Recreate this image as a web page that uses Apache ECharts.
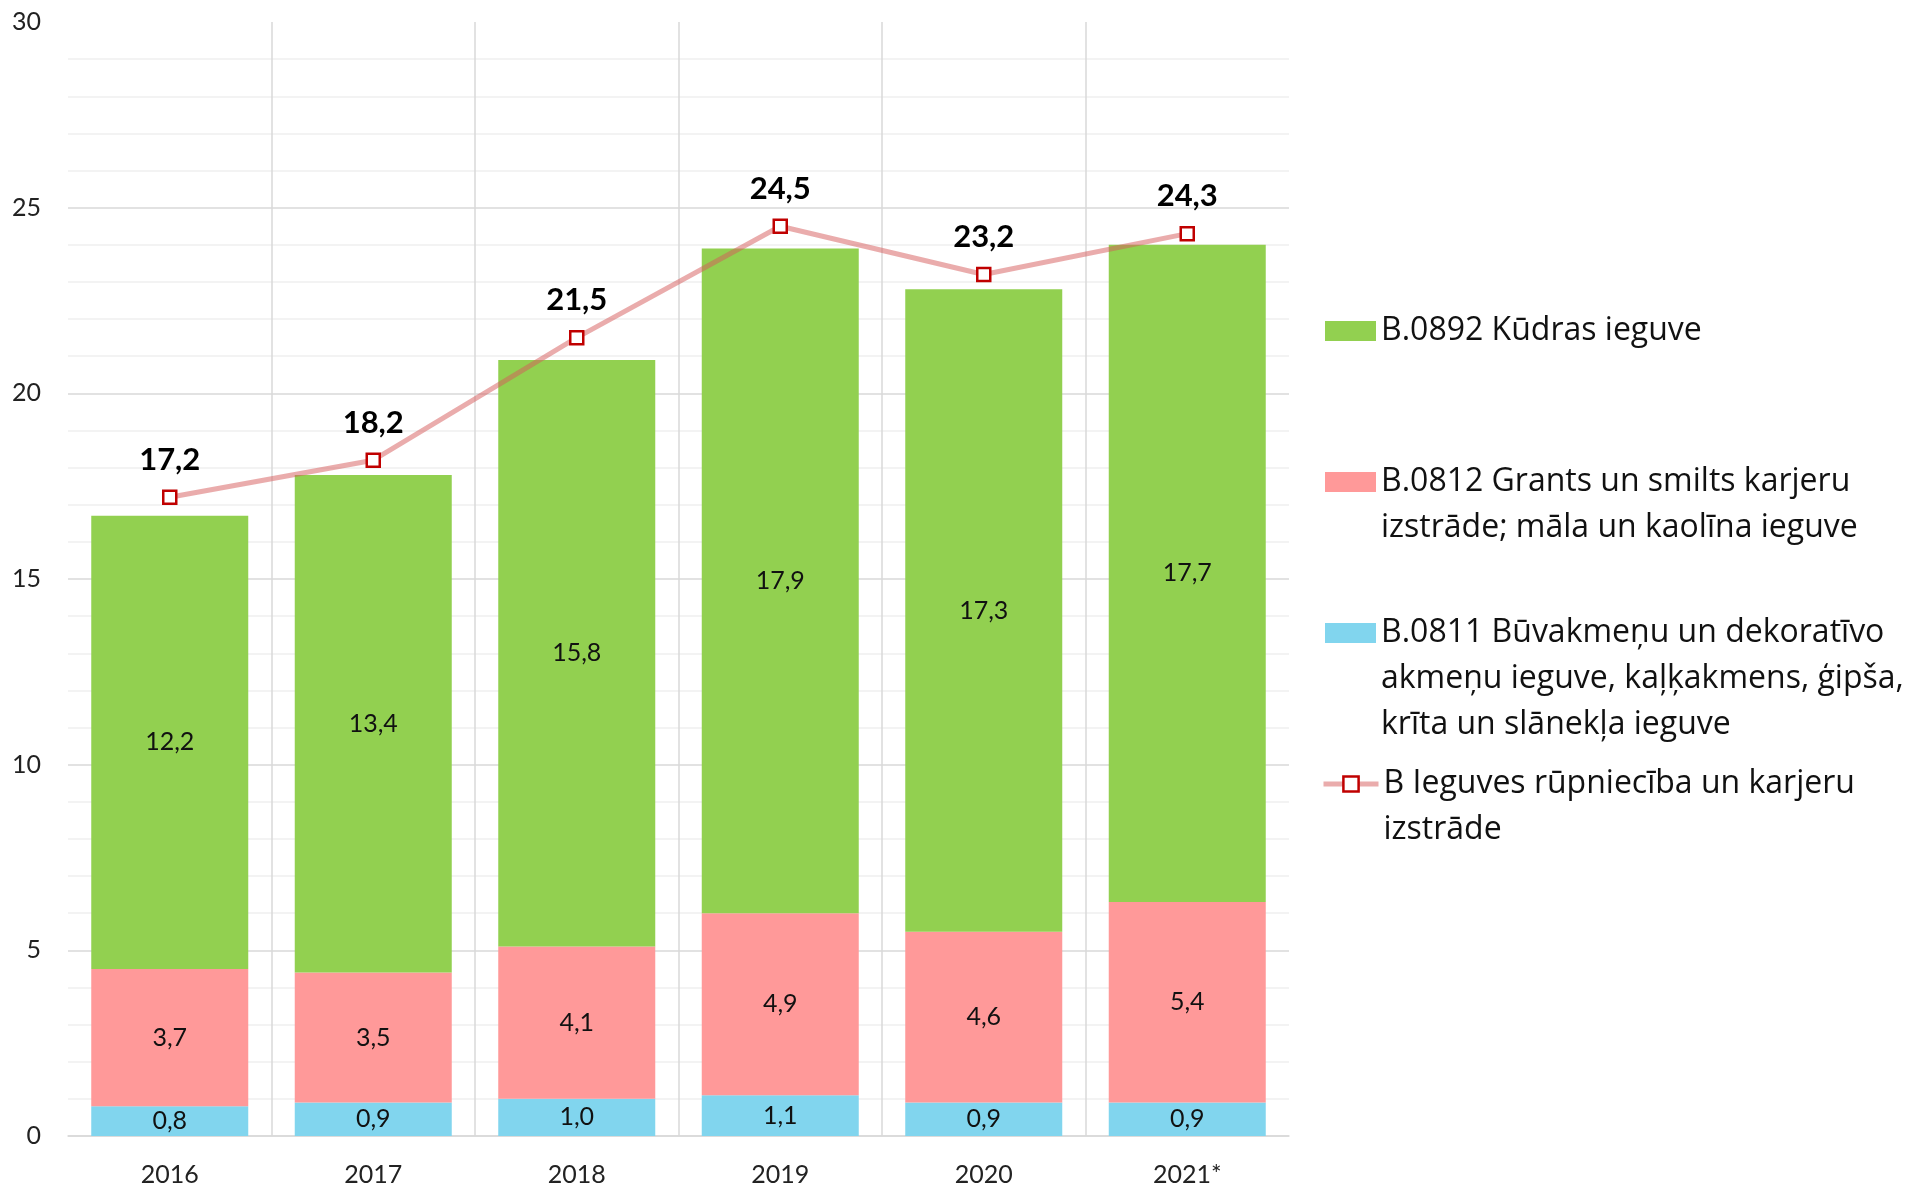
<!DOCTYPE html>
<html>
<head>
<meta charset="utf-8">
<script src="https://cdn.jsdelivr.net/npm/echarts@6/dist/echarts.min.js"></script>
<style>
  html, body { margin: 0; padding: 0; background: #fff; }
  #chart { width: 1918px; height: 1187px; }
</style>
</head>
<body>
<div id="chart"></div>
<script>
// gadi un sērijas (mlj.)
const years = ['2016', '2017', '2018', '2019', '2020', '2021*']
const buvakmenu = [0.8, 0.9, 1.0, 1.1, 0.9, 0.9]
const grants = [3.7, 3.5, 4.1, 4.9, 4.6, 5.4]
const kudras = [12.2, 13.4, 15.8, 17.9, 17.3, 17.7]
const kopa = [17.2, 18.2, 21.5, 24.5, 23.2, 24.3]

const nKudras = 'B.0892 Kūdras ieguve'
const nGrants = 'B.0812 Grants un smilts karjeru\nizstrāde; māla un kaolīna ieguve'
const nBuv = 'B.0811 Būvakmeņu un dekoratīvo\nakmeņu ieguve, kaļķakmens, ģipša,\nkrīta un slānekļa ieguve'
const nKopa = 'B Ieguves rūpniecība un karjeru\nizstrāde'

const FONT = 'Lato'
const LEG_FONT = 'Open Sans'
const LH = 46
const fmt = v => Number(v).toFixed(1).replace('.', ',')

function barSeries(name, data, color) {
  return {
    name, type: 'bar', stack: 'b', data,
    barWidth: 157,
    itemStyle: { color },
    label: {
      show: true, position: 'inside',
      fontFamily: FONT, fontSize: 25, color: '#111',
      formatter: p => fmt(p.value)
    }
  }
}

// leģenda: ikona pie pirmās rindas -> priekšā tukšas rindas
function legendFor(name, iconY, lines, extra) {
  return Object.assign({
    data: [name],
    left: 1325, top: iconY - (2 * lines - 1) * LH / 2,
    padding: 0,
    icon: 'rect',
    itemWidth: 51, itemHeight: 20,
    selectedMode: false,
    formatter: n => ' \n'.repeat(lines - 1) + n,
    textStyle: { fontFamily: LEG_FONT, fontSize: 32, color: '#111', lineHeight: LH }
  }, extra || {})
}

const chart = echarts.init(document.getElementById('chart'))
chart.setOption({
  animation: false,
  grid: { left: 68, right: 629, top: 22, bottom: 50 },
  legend: [
    legendFor(nKudras, 331, 1),
    legendFor(nGrants, 482, 2),
    legendFor(nBuv, 633, 3),
    legendFor(nKopa, 784, 2, {
      icon: null,
      left: 1321, itemWidth: 55, itemHeight: 19,
      lineStyle: { width: 5 },
      itemStyle: { borderWidth: 2.5 }
    })
  ],
  xAxis: {
    type: 'category', data: years,
    axisLine: { lineStyle: { color: '#d9d9d9', width: 1.5 } },
    axisTick: { show: false },
    axisLabel: { fontFamily: FONT, fontSize: 25, color: '#222', margin: 26 },
    splitLine: { show: true, showMinLine: false, showMaxLine: false, lineStyle: { color: '#d9d9d9', width: 1.5 } }
  },
  yAxis: {
    type: 'value', min: 0, max: 30, interval: 5,
    axisLine: { show: false },
    axisTick: { show: false },
    axisLabel: { fontFamily: FONT, fontSize: 25, color: '#222', margin: 27 },
    splitLine: { showMaxLine: false, lineStyle: { color: '#d9d9d9', width: 1.5 } },
    minorTick: { show: false, splitNumber: 5 },
    minorSplitLine: { show: true, lineStyle: { color: '#efefef', width: 1.5 } }
  },
  series: [
    barSeries(nBuv, buvakmenu, '#81d5ee'),
    barSeries(nGrants, grants, '#ff9999'),
    barSeries(nKudras, kudras, '#92d050'),
    {
      name: nKopa, type: 'line', data: kopa, z: 5,
      symbol: 'rect', symbolSize: 13,
      lineStyle: { color: 'rgba(214,90,90,0.5)', width: 5 },
      itemStyle: { color: '#fff', borderColor: '#c00000', borderWidth: 2.5 },
      label: {
        show: true, position: 'top', distance: 14,
        fontFamily: FONT, fontSize: 31, fontWeight: 'bold', color: '#000',
        formatter: p => fmt(p.value)
      }
    }
  ]
})
</script>
</body>
</html>
